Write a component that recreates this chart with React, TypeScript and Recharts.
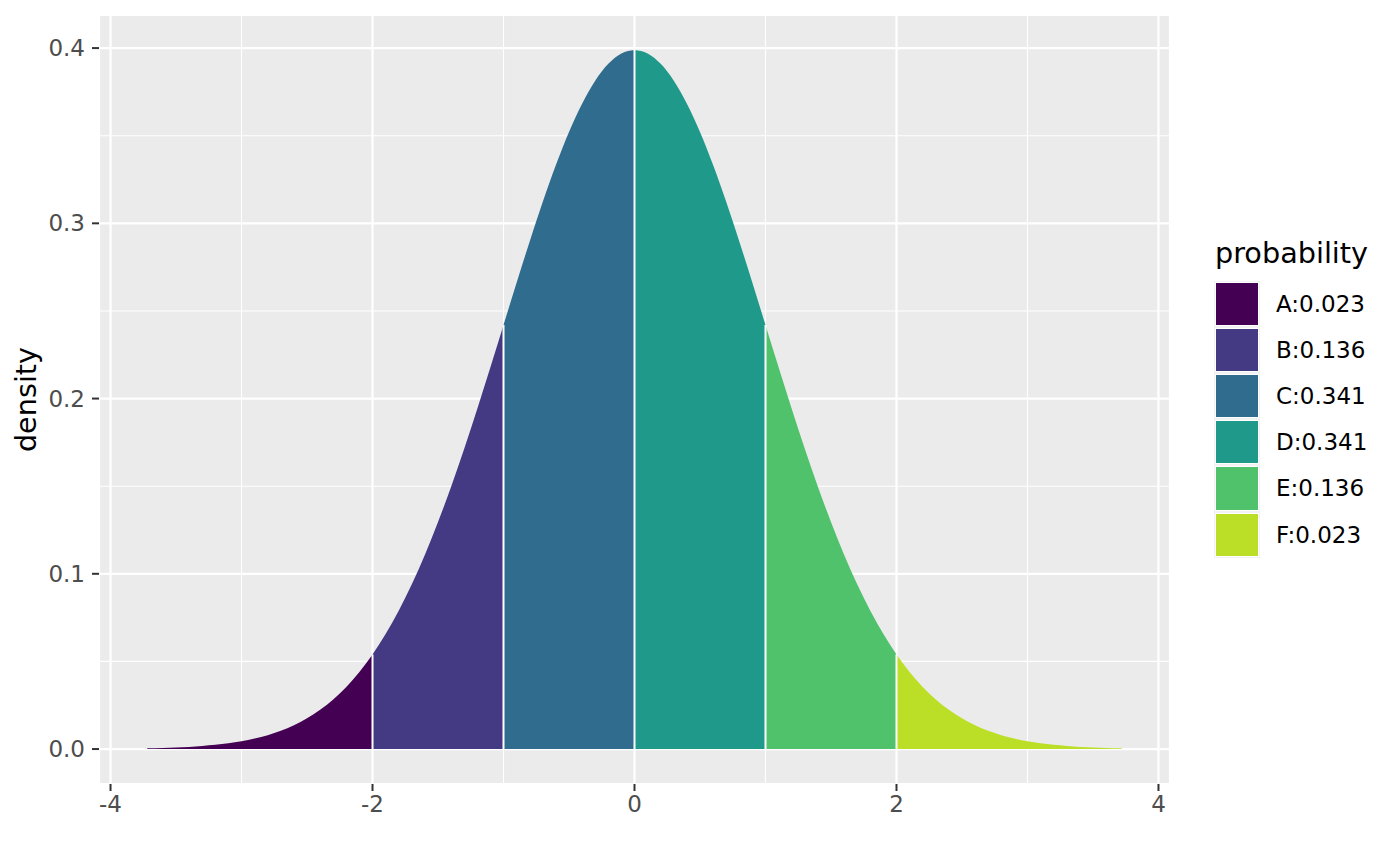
import React from "react";
import {
  ComposedChart,
  Area,
  XAxis,
  YAxis,
  CartesianGrid,
  ReferenceLine,
} from "recharts";

const xValues = [
  -3.72, -3.6, -3.5, -3.4, -3.3, -3.2, -3.1, -3.0, -2.9, -2.8, -2.7, -2.6, -2.5,
  -2.4, -2.3, -2.2, -2.1, -2.0, -1.9, -1.8, -1.7, -1.6, -1.5, -1.4, -1.3, -1.2,
  -1.1, -1.0, -0.9, -0.8, -0.7, -0.6, -0.5, -0.4, -0.3, -0.2, -0.1, 0, 0.1, 0.2,
  0.3, 0.4, 0.5, 0.6, 0.7, 0.8, 0.9, 1.0, 1.1, 1.2, 1.3, 1.4, 1.5, 1.6, 1.7, 1.8,
  1.9, 2.0, 2.1, 2.2, 2.3, 2.4, 2.5, 2.6, 2.7, 2.8, 2.9, 3.0, 3.1, 3.2, 3.3, 3.4,
  3.5, 3.6, 3.72,
];

const densityValues = [
  0.00039, 0.00061, 0.00087, 0.00123, 0.00172, 0.00238, 0.00327, 0.00443,
  0.00595, 0.00792, 0.01042, 0.01358, 0.01753, 0.02239, 0.02833, 0.03547,
  0.04398, 0.05399, 0.06562, 0.07895, 0.09405, 0.11092, 0.12952, 0.14973,
  0.17137, 0.19419, 0.21785, 0.24197, 0.26609, 0.28969, 0.31225, 0.33322,
  0.35207, 0.36827, 0.38139, 0.39104, 0.39695, 0.39894, 0.39695, 0.39104,
  0.38139, 0.36827, 0.35207, 0.33322, 0.31225, 0.28969, 0.26609, 0.24197,
  0.21785, 0.19419, 0.17137, 0.14973, 0.12952, 0.11092, 0.09405, 0.07895,
  0.06562, 0.05399, 0.04398, 0.03547, 0.02833, 0.02239, 0.01753, 0.01358,
  0.01042, 0.00792, 0.00595, 0.00443, 0.00327, 0.00238, 0.00172, 0.00123,
  0.00087, 0.00061, 0.00039,
];

// segment boundaries on the x axis
const breaks = [-2, -1, 0, 1, 2];

const groups = ["A", "B", "C", "D", "E", "F"];
const probabilities = ["0.023", "0.136", "0.341", "0.341", "0.136", "0.023"];
const groupColors = ["#440154", "#443A83", "#2F6C8E", "#1F998A", "#4FC26B", "#BBDF27"];

const xTicks = [-4, -2, 0, 2, 4];
const xMinorTicks = [-3, -1, 1, 3];
const yTicks = [0, 0.1, 0.2, 0.3, 0.4];
const yMinorTicks = [0.05, 0.15, 0.25, 0.35];

const FONT = "'DejaVu Sans', sans-serif";
const TEXT_SIZE = 23;
const TITLE_SIZE = 28.7;

const edges = [-Infinity, ...breaks, Infinity];
const chartData = xValues.map((x, i) => {
  const row: Record<string, number | null> = { x };
  groups.forEach((g, k) => {
    const inside = x >= edges[k] - 1e-9 && x <= edges[k + 1] + 1e-9;
    row[g] = inside ? densityValues[i] : null;
  });
  return row;
});

const breakHeights = breaks.map((b) => densityValues[xValues.indexOf(b)]);

const tickStyle = { fill: "#4D4D4D", fontSize: TEXT_SIZE, fontFamily: FONT };
const tickLineStyle = { stroke: "#333333", strokeWidth: 2 };

export default function App() {
  return (
    <div
      style={{
        position: "absolute",
        left: 0,
        top: 0,
        width: 1400,
        height: 866,
        background: "#FFFFFF",
        fontFamily: FONT,
      }}
    >
      <ComposedChart
        width={1400}
        height={866}
        data={chartData}
        margin={{ top: 15, right: 230, bottom: 0, left: 0 }}
      >
        <XAxis
          xAxisId="minor"
          dataKey="x"
          type="number"
          domain={[-4.088, 4.088]}
          allowDataOverflow
          ticks={xMinorTicks}
          hide
        />
        <YAxis
          yAxisId="minor"
          type="number"
          domain={[-0.01995, 0.41888]}
          allowDataOverflow
          ticks={yMinorTicks}
          hide
        />
        <CartesianGrid
          xAxisId="minor"
          yAxisId="minor"
          stroke="#FFFFFF"
          strokeWidth={1.1}
          fill="#EBEBEB"
          fillOpacity={1}
        />
        <CartesianGrid stroke="#FFFFFF" strokeWidth={2.2} />
        <XAxis
          dataKey="x"
          type="number"
          domain={[-4.088, 4.088]}
          allowDataOverflow
          ticks={xTicks}
          height={82}
          tick={tickStyle}
          tickLine={tickLineStyle}
          axisLine={false}
          tickSize={7}
          tickMargin={5}
        />
        <YAxis
          type="number"
          domain={[-0.01995, 0.41888]}
          allowDataOverflow
          ticks={yTicks}
          width={99}
          tick={tickStyle}
          tickLine={tickLineStyle}
          axisLine={false}
          tickSize={7}
          tickMargin={7}
          tickFormatter={(v: number) => v.toFixed(1)}
          label={{
            content: (p: any) => {
              const vb = p.viewBox || { x: 0, y: 15, height: 769 };
              const cy = vb.y + vb.height / 2;
              const cx = vb.x + 26;
              return (
                <text
                  x={cx}
                  y={cy}
                  dy="0.355em"
                  transform={`rotate(-90, ${cx}, ${cy})`}
                  textAnchor="middle"
                  fill="#000000"
                  fontSize={TITLE_SIZE}
                  fontFamily={FONT}
                >
                  density
                </text>
              );
            },
          }}
        />
        {groups.map((g, k) => (
          <Area
            key={g}
            dataKey={g}
            type="monotone"
            baseValue={0}
            fill={groupColors[k]}
            fillOpacity={1}
            stroke="none"
            dot={false}
            activeDot={false}
            isAnimationActive={false}
          />
        ))}
        {breaks.map((b, i) => (
          <ReferenceLine
            key={b}
            segment={[
              { x: b, y: 0 },
              { x: b, y: breakHeights[i] },
            ]}
            stroke="#FFFFFF"
            strokeWidth={2}
          />
        ))}
      </ComposedChart>

      <div
        style={{
          position: "absolute",
          left: 1215,
          top: 237,
          fontSize: TITLE_SIZE,
          color: "#000000",
          lineHeight: "32px",
          whiteSpace: "nowrap",
        }}
      >
        probability
      </div>
      <div
        style={{
          position: "absolute",
          left: 1214,
          top: 280.7,
          width: 46,
          background: "#F2F2F2",
        }}
      >
        {groups.map((g, k) => (
          <div key={g} style={{ position: "relative", height: 46.2 }}>
            <div
              style={{
                position: "absolute",
                left: 1,
                top: 1,
                width: 42,
                height: 42.2,
                border: "1px solid #FFFFFF",
                background: groupColors[k],
              }}
            />
            <div
              style={{
                position: "absolute",
                left: 62,
                top: 0,
                height: 46.2,
                lineHeight: "46.2px",
                fontSize: TEXT_SIZE,
                color: "#000000",
                whiteSpace: "nowrap",
              }}
            >
              {`${g}:${probabilities[k]}`}
            </div>
          </div>
        ))}
      </div>
    </div>
  );
}
